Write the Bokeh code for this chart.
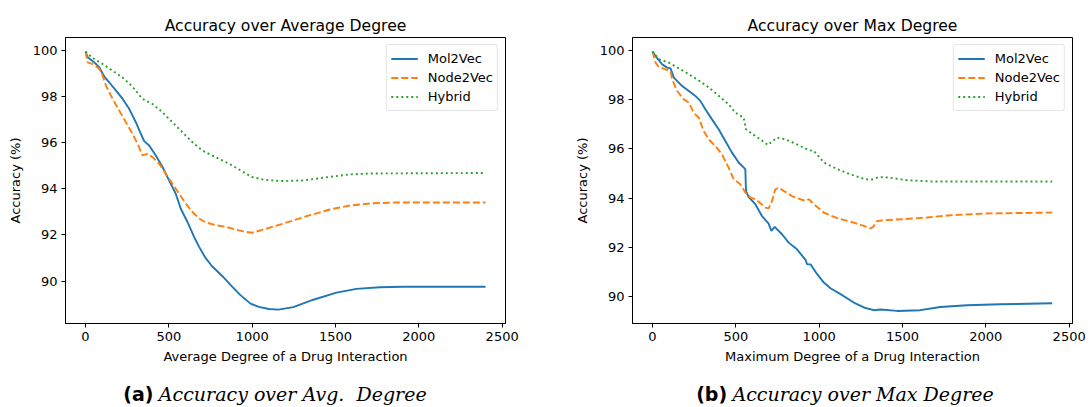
from bokeh.plotting import figure
from bokeh.models import FixedTicker, Legend, LegendItem, Div, Range1d
from bokeh.layouts import row, column
from bokeh.embed import file_html
from bokeh.resources import INLINE

# ---------------- data: Accuracy over Average Degree ----------------
avg_mol_x = [0, 13, 53, 83, 113, 143, 183, 223, 262, 302, 332, 352, 382, 422, 462, 501, 541, 571,
             611, 651, 681, 721, 761, 820, 880, 928, 990, 1040, 1100, 1158, 1247, 1367, 1506, 1626,
             1766, 1905, 2400]
avg_mol_y = [99.94, 99.69, 99.47, 99.25, 98.85, 98.60, 98.25, 97.89, 97.46, 96.88, 96.38, 96.06,
             95.87, 95.44, 94.94, 94.36, 93.79, 93.14, 92.57, 91.92, 91.49, 90.99, 90.63, 90.22,
             89.76, 89.40, 89.02, 88.88, 88.79, 88.76, 88.87, 89.19, 89.50, 89.66, 89.73, 89.75,
             89.75]

avg_node_x = [0, 13, 43, 79, 99, 123, 163, 203, 242, 282, 312, 342, 372, 402, 442, 481, 521, 561,
              601, 641, 681, 721, 780, 840, 940, 998, 1068, 1187, 1327, 1466, 1586, 1726, 1865, 2400]
avg_node_y = [99.94, 99.47, 99.40, 99.22, 98.97, 98.46, 97.89, 97.38, 96.88, 96.38, 95.95, 95.44,
              95.51, 95.37, 95.08, 94.65, 94.22, 93.79, 93.36, 93.00, 92.71, 92.54, 92.42, 92.35,
              92.16, 92.09, 92.23, 92.49, 92.81, 93.10, 93.27, 93.37, 93.40, 93.40]

avg_hyb_x = [0, 43, 103, 163, 222, 282, 342, 402, 462, 521, 581, 641, 700, 760, 820, 880, 940,
             998, 1068, 1167, 1307, 1466, 1586, 1726, 2400]
avg_hyb_y = [99.94, 99.66, 99.40, 99.11, 98.82, 98.42, 97.89, 97.67, 97.31, 96.88, 96.45, 96.02,
             95.66, 95.44, 95.23, 95.01, 94.75, 94.51, 94.39, 94.33, 94.36, 94.51, 94.62, 94.66,
             94.68]

# ---------------- data: Accuracy over Max Degree ----------------
max_mol_x = [0, 28, 58, 88, 108, 128, 178, 218, 257, 287, 317, 357, 397, 437, 477, 517, 557, 561,
             577, 617, 657, 697, 713, 733, 777, 817, 867, 918, 928, 948, 988, 1028, 1068, 1128,
             1208, 1268, 1328, 1368, 1468, 1607, 1727, 1887, 2087, 2398]
max_mol_y = [99.95, 99.68, 99.43, 99.30, 99.27, 98.89, 98.55, 98.35, 98.15, 97.95, 97.61, 97.20,
             96.80, 96.32, 95.85, 95.45, 95.18, 94.30, 94.05, 93.76, 93.28, 92.97, 92.68, 92.84,
             92.54, 92.20, 91.93, 91.50, 91.32, 91.32, 90.92, 90.58, 90.35, 90.11, 89.77, 89.57,
             89.46, 89.49, 89.43, 89.46, 89.59, 89.66, 89.70, 89.74]

max_node_x = [0, 18, 38, 78, 108, 118, 148, 188, 218, 247, 277, 307, 337, 377, 417, 457, 487, 527,
              557, 587, 617, 647, 677, 697, 717, 737, 757, 787, 837, 887, 918, 938, 968, 1028,
              1108, 1188, 1268, 1308, 1324, 1348, 1408, 1508, 1648, 1787, 1987, 2398]
max_node_y = [99.95, 99.50, 99.32, 99.23, 99.16, 98.82, 98.35, 98.01, 97.88, 97.47, 97.27, 96.73,
              96.39, 96.12, 95.78, 95.24, 94.77, 94.57, 94.23, 94.03, 93.96, 93.80, 93.62, 93.59,
              93.89, 94.36, 94.43, 94.30, 94.09, 93.96, 93.89, 93.96, 93.76, 93.42, 93.19, 93.05,
              92.88, 92.78, 92.84, 93.08, 93.12, 93.15, 93.22, 93.31, 93.38, 93.42]

max_hyb_x = [0, 38, 98, 158, 218, 288, 338, 398, 457, 497, 547, 561, 597, 647, 693, 717, 747, 797,
             857, 937, 968, 1028, 1108, 1188, 1278, 1318, 1358, 1418, 1528, 1687, 2398]
max_hyb_y = [99.95, 99.64, 99.50, 99.27, 99.03, 98.73, 98.49, 98.15, 97.81, 97.47, 97.27, 96.80,
             96.62, 96.39, 96.16, 96.30, 96.46, 96.39, 96.22, 95.95, 95.92, 95.45, 95.18, 94.97,
             94.77, 94.76, 94.86, 94.84, 94.73, 94.68, 94.68]

series_names = ["Mol2Vec", "Node2Vec", "Hybrid"]
x_ticks = [0, 500, 1000, 1500, 2000, 2500]
y_ticks = [90, 92, 94, 96, 98, 100]

COLORS = ["#1f77b4", "#ff7f0e", "#2ca02c"]
DASHES = ["solid", "7 3", "2 3"]
FONT = "DejaVu Sans"


def make_panel(title, xlabel, data, yr, border_left, border_right):
    p = figure(output_backend="svg", toolbar_location=None,
               frame_width=440, frame_height=286,
               min_border_left=border_left, min_border_right=border_right,
               min_border_top=37, min_border_bottom=52,
               x_range=Range1d(-120, 2520), y_range=Range1d(*yr),
               title=title)
    p.title.text_font = FONT
    p.title.text_font_size = "15.6px"
    p.title.text_font_style = "normal"
    p.title.align = "center"
    p.title.text_color = "black"
    p.title.standoff = 5
    p.grid.visible = False
    p.outline_line_color = "black"
    p.outline_line_width = 1
    p.outline_line_alpha = 1
    p.background_fill_color = "white"
    p.border_fill_color = "white"

    for ax, lab, ticks in ((p.xaxis[0], xlabel, x_ticks), (p.yaxis[0], "Accuracy (%)", y_ticks)):
        ax.ticker = FixedTicker(ticks=ticks)
        ax.axis_label = lab
        ax.axis_label_text_font = FONT
        ax.axis_label_text_font_size = "13px"
        ax.axis_label_text_font_style = "normal"
        ax.axis_label_text_color = "black"
        ax.major_label_text_font = FONT
        ax.major_label_text_font_size = "13px"
        ax.major_label_text_color = "black"
        ax.major_tick_out = 4
        ax.major_tick_in = 0
        ax.minor_tick_out = 0
        ax.minor_tick_in = 0
        ax.major_label_standoff = 4
        ax.axis_label_standoff = 5
        ax.axis_line_color = "black"
        ax.major_tick_line_color = "black"
    p.yaxis[0].axis_label_standoff = 7

    items = []
    for name, (xs, ys), c, d in zip(series_names, data, COLORS, DASHES):
        r = p.line(xs, ys, line_color=c, line_width=1.9, line_dash=d)
        items.append(LegendItem(label=name, renderers=[r]))
    leg = Legend(items=items, location="top_right")
    leg.label_text_font = FONT
    leg.label_text_font_size = "13px"
    leg.label_text_color = "black"
    leg.glyph_width = 27
    leg.glyph_height = 19
    leg.label_height = 19
    leg.spacing = 0
    leg.padding = 4
    leg.margin = 7
    leg.label_standoff = 10
    leg.border_line_color = "#cccccc"
    leg.border_line_width = 1
    leg.background_fill_color = "white"
    leg.background_fill_alpha = 0.8
    if "border_radius" in Legend.properties():
        leg.border_radius = 3
    p.add_layout(leg)
    return p


p1 = make_panel("Accuracy over Average Degree", "Average Degree of a Drug Interaction",
                [(avg_mol_x, avg_mol_y), (avg_node_x, avg_node_y), (avg_hyb_x, avg_hyb_y)],
                (88.16, 100.55), 65, 40)
p2 = make_panel("Accuracy over Max Degree", "Maximum Degree of a Drug Interaction",
                [(max_mol_x, max_mol_y), (max_node_x, max_node_y), (max_hyb_x, max_hyb_y)],
                (88.92, 100.52), 87, 18)

CAP = ('<div style="width:{w}px; box-sizing:border-box; text-align:center; padding-top:8px; '
       'padding-left:{pl}px; line-height:22px; font-size:19px; color:black; white-space:nowrap;">'
       '<span style="font-family:\'DejaVu Sans\'; font-weight:bold;">{tag}</span> '
       '<span style="font-family:\'DejaVu Serif\'; font-style:italic;">{txt}</span></div>')
d1 = Div(text=CAP.format(w=545, pl=5, tag="(a)", txt="Accuracy over Avg.&nbsp; Degree"),
         width=545, height=32, margin=(0, 0, 0, 0))
d2 = Div(text=CAP.format(w=545, pl=55, tag="(b)", txt="Accuracy over Max Degree"),
         width=545, height=32, margin=(0, 0, 0, 0))

layout = column(row(p1, p2), row(d1, d2))
open("out.html", "w").write(file_html(layout, INLINE))
